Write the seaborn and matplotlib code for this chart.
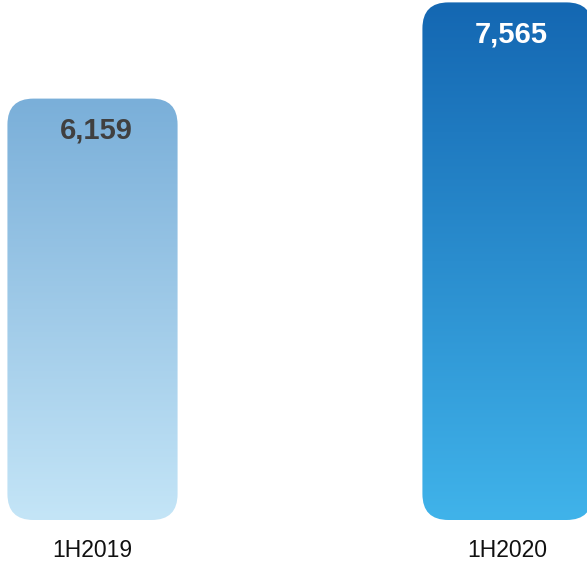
import numpy as np
import pandas as pd
import matplotlib
matplotlib.use('Agg')
import matplotlib.pyplot as plt
import seaborn as sns
from matplotlib.patches import FancyBboxPatch
from matplotlib.colors import LinearSegmentedColormap

periods = ["1H2019", "1H2020"]
values = [6159, 7565]
value_labels = ["6,159", "7,565"]
top_colors = ["#7AAFD9", "#1467B2"]
bottom_colors = ["#C4E5F7", "#40B3EA"]
label_colors = ["#404040", "#FFFFFF"]

df = pd.DataFrame({"period": periods, "value": values})

sns.set_style("white")
plt.rcParams['font.family'] = ['Liberation Sans', 'DejaVu Sans']

W, H = 587, 562
XMIN, XMAX = -0.2229, 1.1916
YMAX = 7600

fig = plt.figure(figsize=(W / 100, H / 100), dpi=100)
ax = fig.add_axes([0, 42 / H, 1, 520 / H])

sns.barplot(data=df, x="period", y="value", width=0.41, color="white", ax=ax)

# pixels -> data units, for rounding the corners evenly
xpp = (XMAX - XMIN) / W
ypp = YMAX / 520
radius_px = 26

for i, bar in enumerate(ax.patches):
    bar.set_visible(False)
    x0, w = bar.get_x(), bar.get_width()
    h = bar.get_height()
    box = FancyBboxPatch((x0, 0), w, h,
                         boxstyle=f"round,pad=0,rounding_size={radius_px * xpp}",
                         mutation_aspect=ypp / xpp,
                         facecolor="none", edgecolor="none")
    ax.add_patch(box)
    cmap = LinearSegmentedColormap.from_list(f"g{i}", [bottom_colors[i], top_colors[i]])
    grad = np.linspace(0, 1, 256).reshape(-1, 1)
    im = ax.imshow(grad, cmap=cmap, aspect="auto", origin="lower",
                   extent=(x0, x0 + w, 0, h), interpolation="bicubic")
    im.set_clip_path(box)
    ax.text(x0 + w / 2 + 4 * xpp, h - 32 * ypp, value_labels[i], ha="center", va="center",
            fontsize=21, fontweight="bold", color=label_colors[i])

ax.set_xlim(XMIN, XMAX)
ax.set_ylim(0, YMAX)
ax.set_xlabel("")
ax.set_ylabel("")
ax.set_yticks([])
ax.tick_params(axis="x", length=0, labelsize=16.5, pad=14, labelcolor="#111111")
sns.despine(ax=ax, left=True, bottom=True)

fig.savefig("out.png", dpi=100)
